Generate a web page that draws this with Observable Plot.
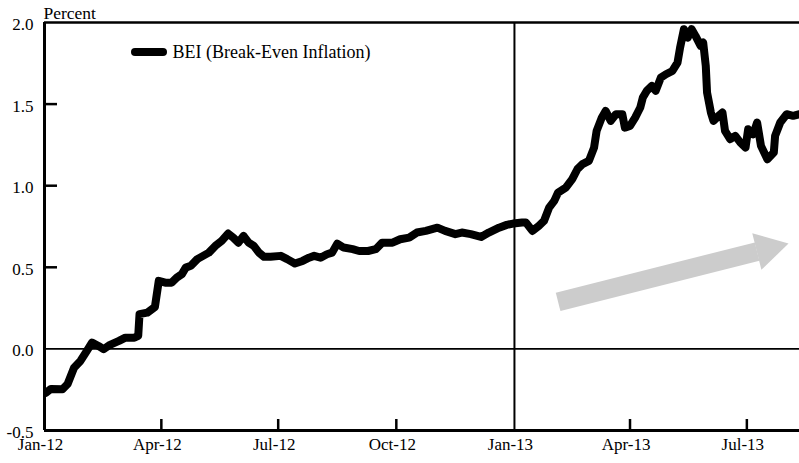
<!DOCTYPE html>
<html>
<head>
<meta charset="utf-8">
<script src="https://cdn.jsdelivr.net/npm/d3@7"></script>
<script src="https://cdn.jsdelivr.net/npm/@observablehq/plot@0.6"></script>
<style>
  html, body { margin: 0; padding: 0; background: #fff; }
  #wrap { position: relative; width: 799px; height: 463px; font-family: "Liberation Serif", "DejaVu Serif", serif; }
  #wrap svg text { font-family: "Liberation Serif", "DejaVu Serif", serif; }
  #swatch { position: absolute; left: 131px; top: 48px; width: 36px; height: 8px; background: #000; border-radius: 4px; }
</style>
</head>
<body>
<div id="wrap"><div id="swatch"></div></div>
<script>
const dates = [
  "2012-01-02","2012-01-06","2012-01-15","2012-01-19","2012-01-24","2012-01-29","2012-02-03","2012-02-07",
  "2012-02-12","2012-02-16","2012-02-21","2012-02-28","2012-03-04","2012-03-11","2012-03-14","2012-03-15",
  "2012-03-21","2012-03-27","2012-03-30","2012-04-04","2012-04-09","2012-04-13","2012-04-17","2012-04-20",
  "2012-04-24","2012-04-29","2012-05-08","2012-05-13","2012-05-18","2012-05-23","2012-05-27","2012-05-31",
  "2012-06-04","2012-06-08","2012-06-12","2012-06-16","2012-06-20","2012-06-25","2012-07-03","2012-07-08",
  "2012-07-14","2012-07-20","2012-07-25","2012-07-29","2012-08-03","2012-08-08","2012-08-12","2012-08-16",
  "2012-08-21","2012-08-28","2012-09-02","2012-09-09","2012-09-15","2012-09-20","2012-09-28","2012-10-04",
  "2012-10-11","2012-10-17","2012-10-24","2012-11-02","2012-11-08","2012-11-16","2012-11-21","2012-11-28",
  "2012-12-06","2012-12-12","2012-12-20","2012-12-26","2012-12-31","2013-01-07","2013-01-10","2013-01-15",
  "2013-01-20","2013-01-24","2013-01-28","2013-02-01","2013-02-04","2013-02-10","2013-02-15","2013-02-19",
  "2013-02-23","2013-02-28","2013-03-04","2013-03-06","2013-03-10","2013-03-13","2013-03-17","2013-03-21",
  "2013-03-26","2013-03-28","2013-04-01","2013-04-05","2013-04-09","2013-04-11","2013-04-14","2013-04-18",
  "2013-04-21","2013-04-25","2013-04-29","2013-05-04","2013-05-08","2013-05-10","2013-05-13","2013-05-16",
  "2013-05-19","2013-05-22","2013-05-26","2013-05-28","2013-05-30","2013-05-31","2013-06-03","2013-06-05",
  "2013-06-09","2013-06-12","2013-06-14","2013-06-18","2013-06-22","2013-06-26","2013-06-30","2013-07-02",
  "2013-07-06","2013-07-09","2013-07-12","2013-07-17","2013-07-22","2013-07-23","2013-07-27","2013-08-01",
  "2013-08-06","2013-08-11"
];
const bei = [
  -0.27,-0.245,-0.247,-0.215,-0.115,-0.074,-0.012,0.039,
  0.018,-0.002,0.025,0.049,0.069,0.069,0.08,0.213,
  0.222,0.257,0.417,0.406,0.406,0.437,0.458,0.498,
  0.509,0.55,0.59,0.631,0.662,0.707,0.682,0.651,
  0.692,0.651,0.631,0.59,0.564,0.564,0.57,0.55,
  0.523,0.539,0.559,0.57,0.559,0.58,0.59,0.645,
  0.621,0.611,0.60,0.60,0.611,0.651,0.651,0.672,
  0.682,0.713,0.723,0.743,0.723,0.703,0.713,0.703,
  0.686,0.713,0.743,0.76,0.768,0.774,0.774,0.723,
  0.754,0.784,0.866,0.907,0.958,0.988,1.04,1.101,
  1.132,1.152,1.233,1.336,1.417,1.458,1.397,1.438,
  1.438,1.356,1.366,1.417,1.479,1.54,1.581,1.611,
  1.581,1.662,1.683,1.703,1.754,1.846,1.959,1.908,
  1.959,1.918,1.857,1.877,1.734,1.571,1.448,1.397,
  1.428,1.448,1.336,1.285,1.305,1.264,1.234,1.346,
  1.315,1.387,1.244,1.162,1.203,1.305,1.387,1.438,
  1.428,1.438
];
const xTicks = ["2012-01-01","2012-04-01","2012-07-01","2012-10-01","2013-01-01","2013-04-01","2013-07-01"];
const xTickLabels = ["Jan-12","Apr-12","Jul-12","Oct-12","Jan-13","Apr-13","Jul-13"];
const yTicks = [-0.5, 0.0, 0.5, 1.0, 1.5, 2.0];
const yTickLabels = ["-0.5","0.0","0.5","1.0","1.5","2.0"];
const xDomain = ["2012-01-01","2013-08-11"];
const yDomain = [-0.5, 2.0];
const yMarked = [0.5, 1.0, 1.5];
const xMarked = ["2012-04-01","2012-07-01","2012-10-01","2013-04-01","2013-07-01"];
const divider = "2013-01-01";
const arrowTail = {date: "2013-02-04", value: 0.288};
const arrowNeck = {date: "2013-07-09", value: 0.596};
const arrowHead = {date: "2013-07-17", value: 0.613};
const seriesName = "BEI (Break-Even Inflation)";
const unitLabel = "Percent";

const P = d3.utcParse("%Y-%m-%d");
const data = dates.map((d, i) => ({date: P(d), value: bei[i]}));
const xt = xTicks.map(P);
const labelOf = new Map(xt.map((d, i) => [+d, xTickLabels[i]]));
const ylabelOf = new Map(yTicks.map((v, i) => [v, yTickLabels[i]]));

const W = 799, H = 463, ML = 44, MR = 0, MT = 22, MB = 33;
const FF = "'Liberation Serif', 'DejaVu Serif', serif";

const chart = Plot.plot({
  width: W, height: H,
  marginLeft: ML, marginRight: MR, marginTop: MT, marginBottom: MB,
  style: `font-family: ${FF}; font-size: 17px; color: #000; background: #fff; overflow: visible;`,
  x: {type: "utc", domain: xDomain.map(P)},
  y: {domain: yDomain},
  marks: [
    Plot.axisY(yTicks, {tickSize: 0, tickPadding: 11, tickFormat: v => ylabelOf.get(v), fontSize: 17, fontFamily: FF, dy: 2, label: null}),
    Plot.axisX(xt, {tickSize: 0, tickPadding: 7, tickFormat: d => labelOf.get(+d), fontSize: 17, fontFamily: FF, dx: -4, label: null}),
    // gray arrow
    Plot.link([{a: arrowTail, b: arrowNeck}], {x1: d => P(d.a.date), y1: d => d.a.value, x2: d => P(d.b.date), y2: d => d.b.value, stroke: "#cccccc", strokeWidth: 19}),
    Plot.dot([arrowHead], {x: d => P(d.date), y: "value", symbol: "triangle", r: 14, fill: "#cccccc", stroke: "none", rotate: 76}),
    // inner ticks
    Plot.tickY(yMarked, {y: d => d, stroke: "#000", strokeWidth: 2.5, insetRight: W - ML - MR - 13}),
    Plot.tickX(xMarked.map(P), {x: d => d, stroke: "#000", strokeWidth: 2.5, insetTop: H - MT - MB - 11}),
    // reference lines & frame
    Plot.ruleY([0], {stroke: "#000", strokeWidth: 1.6}),
    Plot.ruleX([P(divider)], {stroke: "#000", strokeWidth: 2}),
    Plot.ruleY([yDomain[1]], {stroke: "#000", strokeWidth: 2.5}),
    Plot.ruleY([yDomain[0]], {stroke: "#000", strokeWidth: 3}),
    Plot.ruleX([P(xDomain[0])], {stroke: "#000", strokeWidth: 3}),
    // series
    Plot.line(data, {x: "date", y: "value", stroke: "#000", strokeWidth: 8, strokeLinejoin: "round", strokeLinecap: "round", clip: true}),
    // texts
    Plot.text([unitLabel], {frameAnchor: "top-left", text: d => d, textAnchor: "start", lineAnchor: "bottom", dx: -1, dy: -4, fontSize: 17.5, fontFamily: FF}),
    Plot.text([seriesName], {frameAnchor: "top-left", text: d => d, textAnchor: "start", lineAnchor: "middle", dx: 128, dy: 30, fontSize: 18, fontFamily: FF})
  ]
});
document.getElementById("wrap").prepend(chart);
</script>
</body>
</html>
